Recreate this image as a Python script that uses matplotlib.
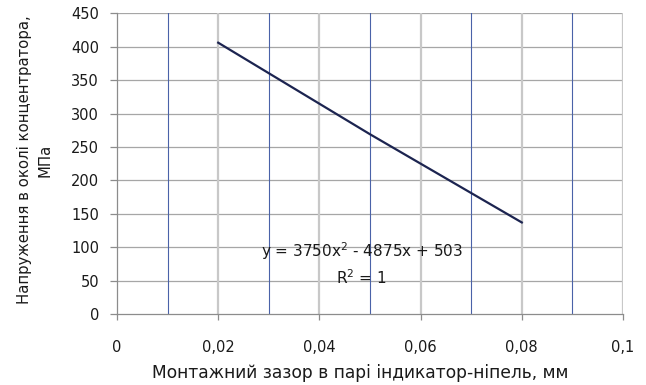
import matplotlib
matplotlib.use("Agg")
import matplotlib.pyplot as plt

# Data
x_vals = [0.02, 0.05, 0.08]
y_vals = [406, 269, 137]
x_ticks = [0, 0.02, 0.04, 0.06, 0.08, 0.1]
x_tick_labels = ["0", "0,02", "0,04", "0,06", "0,08", "0,1"]
y_ticks = [0, 50, 100, 150, 200, 250, 300, 350, 400, 450]
equation = "y = 3750x$^{2}$ - 4875x + 503"
r2_text = "R$^{2}$ = 1"
x_label = "Монтажний зазор в парі індикатор-ніпель, мм"
y_label = "Напруження в околі концентратора,\nМПа"

plt.rcParams['font.family'] = ['DejaVu Sans']
plt.rcParams['mathtext.fontset'] = 'dejavusans'

L, R, T, B = 117, 623, 13.3, 314
fig = plt.figure(figsize=(6.46, 3.85), dpi=100)
ax = fig.add_axes([L/646, 1-B/385, (R-L)/646, (B-T)/385])

ax.set_xlim(0, 0.1)
ax.set_ylim(0, 450)

# grid lines
for xv in [0.01, 0.03, 0.05, 0.07, 0.09]:
    ax.axvline(xv, color='#4a62a8', lw=0.8, zorder=1)
for xv in [0.02, 0.04, 0.06, 0.08, 0.1]:
    ax.axvline(xv, color='#c8c8c8', lw=1.6, zorder=1)
for yv in y_ticks[1:]:
    ax.axhline(yv, color='#a6a6a6', lw=0.9, zorder=0.9)

ax.plot(x_vals, y_vals, color='#1c2450', lw=1.6, zorder=3)

ax.set_xticks(x_ticks)
ax.set_xticklabels(x_tick_labels)
ax.set_yticks(y_ticks)
ax.set_yticklabels([str(v) for v in y_ticks])

for s in ['top', 'right']:
    ax.spines[s].set_visible(False)
for s in ['left', 'bottom']:
    ax.spines[s].set_color('#8c8c8c')
    ax.spines[s].set_linewidth(0.9)

ax.tick_params(axis='y', length=5, width=0.9, color='#8c8c8c', labelsize=10.5, pad=8, labelcolor='#1a1a1a')
ax.tick_params(axis='x', length=4, width=0.9, color='#8c8c8c', labelsize=10.5, pad=15, labelcolor='#1a1a1a')

ax.set_xlabel(x_label, fontsize=12.3, color='#1a1a1a')
ax.xaxis.set_label_coords((360-L)/(R-L), -(373-B)/(B-T))
ax.xaxis.label.set_va('center')

ax.set_ylabel(y_label, fontsize=10.7, color='#1a1a1a', linespacing=1.45)
ax.yaxis.set_label_coords(-(L-35)/(R-L), (B-160)/(B-T))
ax.yaxis.label.set_va('center')

def px_to_data(px, py):
    xd = (px - L) / (R - L) * 0.1
    yd = (B - py) / (B - T) * 450
    return xd, yd

ex, ey = px_to_data(362, 251)
ax.text(ex, ey, equation, fontsize=11, color='#1a1a1a', ha='center', va='center', zorder=4)
rx, ry = px_to_data(361, 278)
ax.text(rx, ry, r2_text, fontsize=11, color='#1a1a1a', ha='center', va='center', zorder=4)

fig.savefig("out.png", dpi=100, facecolor='white')
